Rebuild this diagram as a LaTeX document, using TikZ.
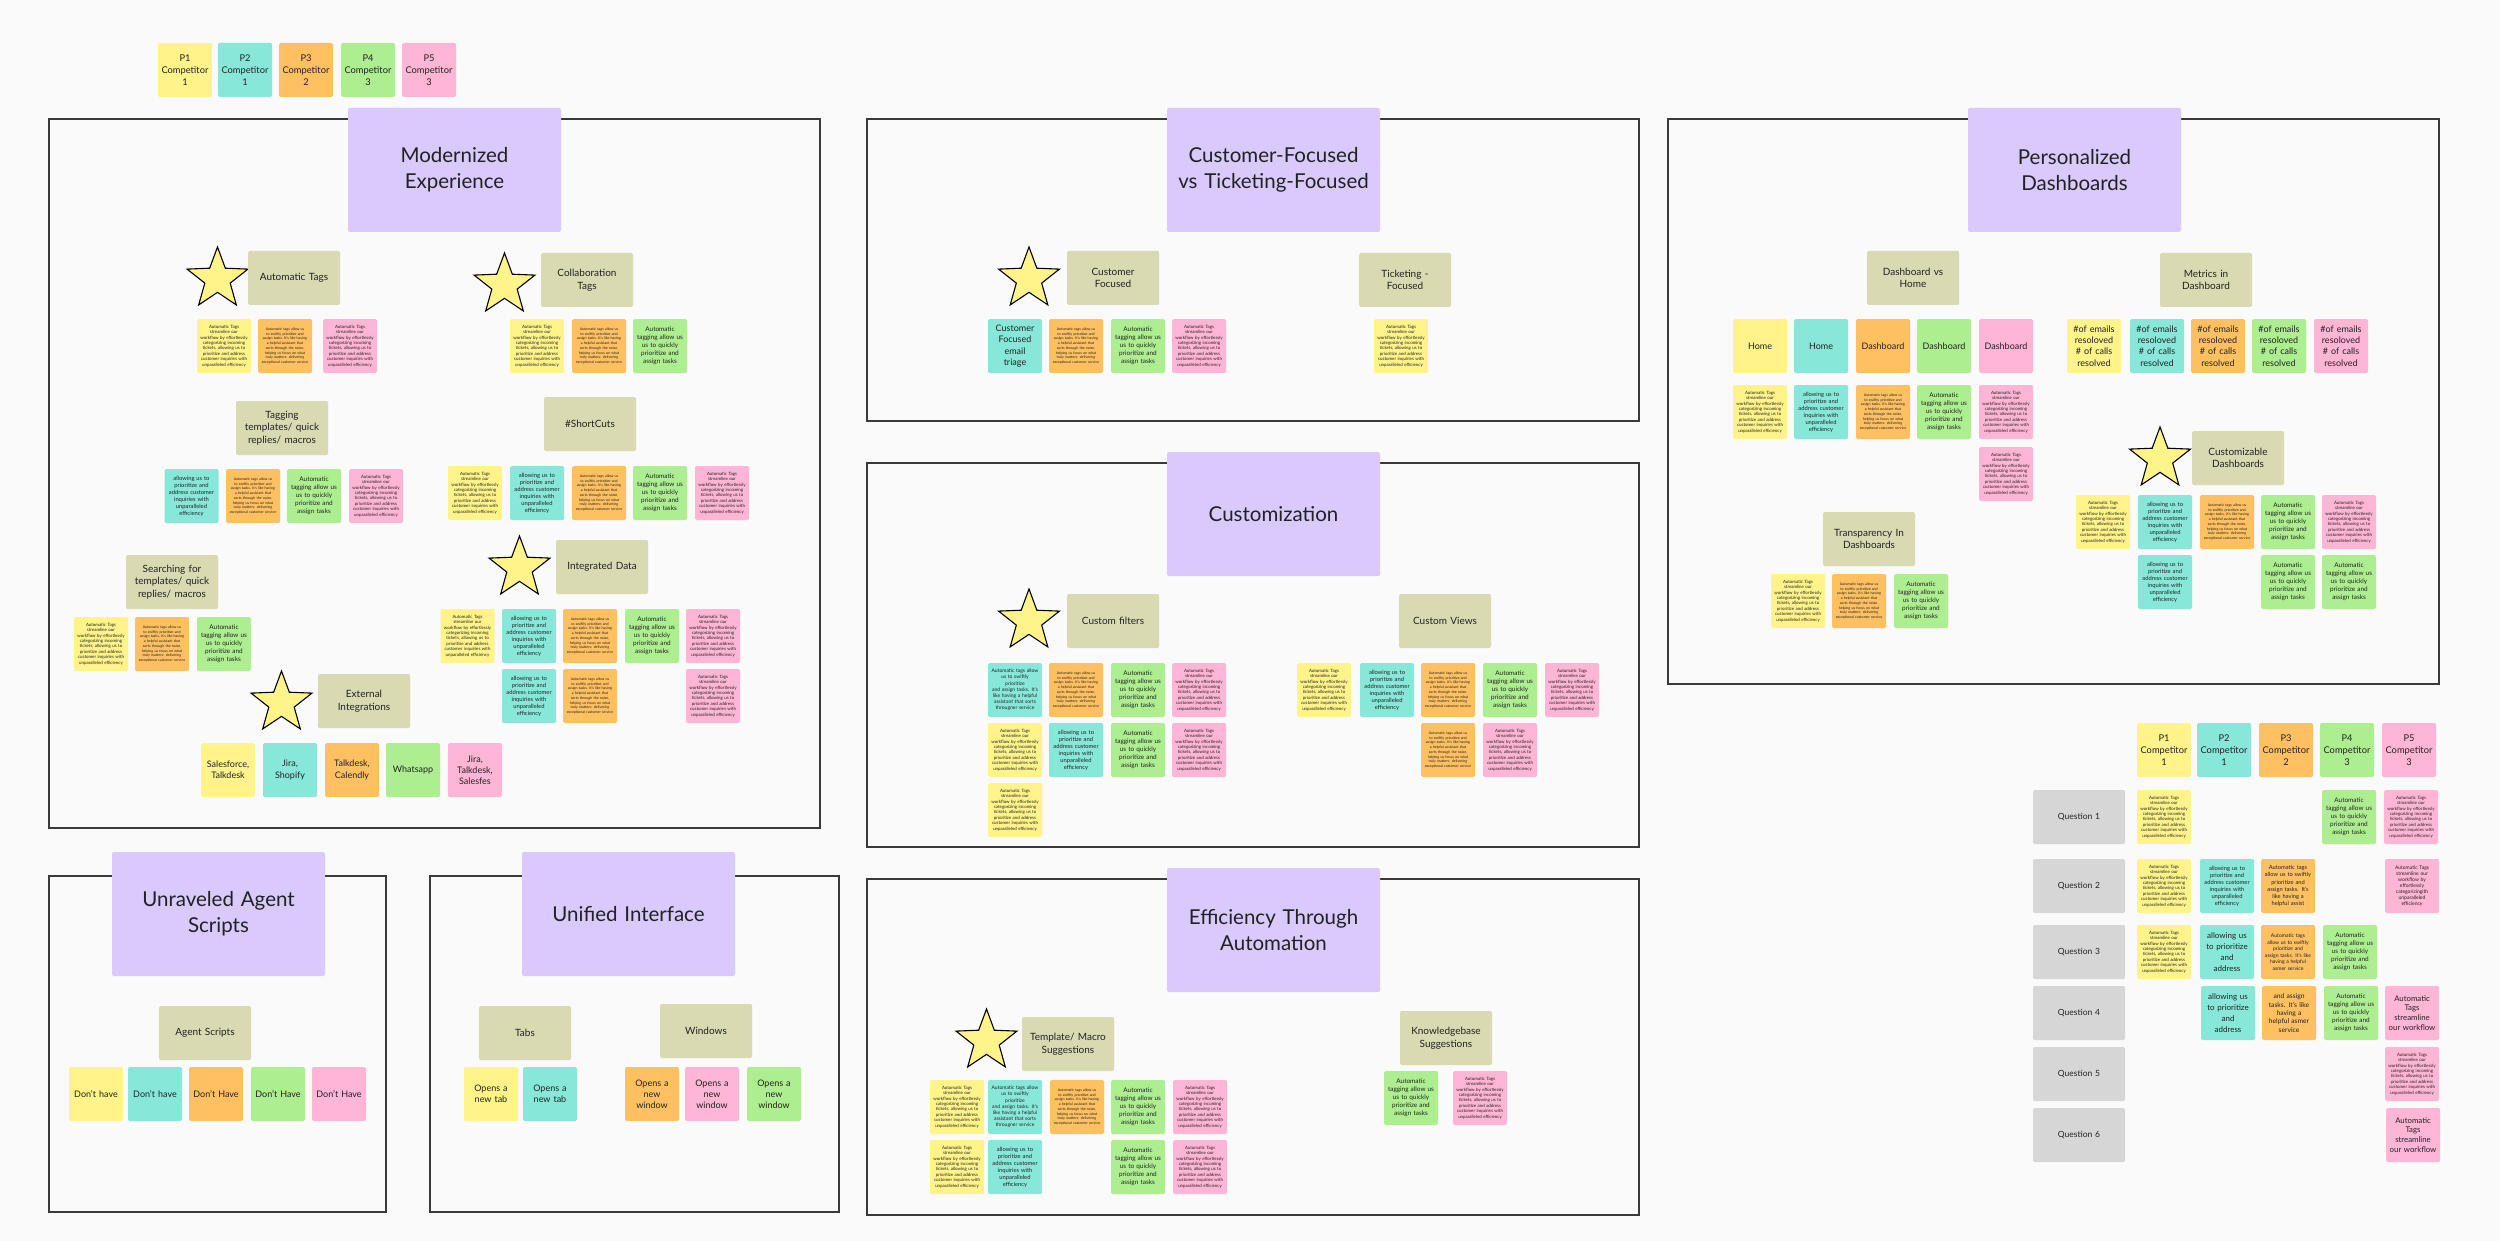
\documentclass[tikz,border=0pt]{standalone}
\usepackage{fontspec}
\setmainfont{Lato}
\usetikzlibrary{shapes.geometric}
\definecolor{cY}{HTML}{FFF38A}
\definecolor{cT}{HTML}{87E8DA}
\definecolor{cO}{HTML}{FFC062}
\definecolor{cG}{HTML}{ADEE90}
\definecolor{cP}{HTML}{FFB5D5}
\definecolor{lav}{HTML}{D9C9FD}
\definecolor{oli}{HTML}{D9DAB2}
\definecolor{qgr}{HTML}{D6D6D6}
\definecolor{bgc}{HTML}{FAFAFA}
\definecolor{frc}{HTML}{3A3A3A}
\definecolor{ink}{HTML}{222222}
\definecolor{stY}{HTML}{FFF48A}
\hyphenpenalty=10000
\exhyphenpenalty=10000
\newcommand\txTags{Automatic Tags streamline our workflow by effortlessly categorizing incoming tickets, allowing us to prioritize and address customer inquiries with unparalleled efficiency}
\newcommand\txOra{Automatic tags allow us to swiftly prioritize and assign tasks. It's like having a helpful assistant that sorts through the noise, helping us focus on what truly matters: delivering exceptional customer service}
\newcommand\txAllow{allowing us to\\prioritize and\\address customer\\inquiries with\\unparalleled\\efficiency}
\newcommand\txAuto{Automatic\\tagging allow us\\us to quickly\\prioritize and\\assign tasks}
\newcommand\txAssist{Automatic tags allow\\us to swiftly prioritize\\and assign tasks. It's\\like having a helpful\\assistant that sorts\\througner service}
\tikzset{
  bx/.style={anchor=north west, inner sep=0pt, outer sep=0pt, align=center, rounded corners=1.5pt, text=ink},
  st/.style={bx, fill=#1, minimum width=54pt, minimum height=54pt, text width=48pt},
  catbox/.style={bx, fill=oli, minimum width=92pt, minimum height=54pt, text width=86pt, font=\fontsize{10}{12.7}\selectfont},
  ttl/.style={bx, fill=lav, rounded corners=2pt, minimum width=213pt, minimum height=124pt, text width=205pt, font=\fontsize{20.5}{26}\selectfont},
  qbox/.style={bx, fill=qgr, minimum width=92pt, minimum height=54pt, text width=86pt, font=\fontsize{8.5}{11}\selectfont},
  fr/.style={draw=frc, line width=1.8pt},
  starn/.style={star, star points=5, star point ratio=2.4, fill=stY, draw=black, line width=1.1pt, minimum size=64pt, inner sep=0pt},
  fsT/.style={font=\fontsize{4.4}{5.4}\selectfont},
  fsO/.style={font=\fontsize{3.6}{4.7}\selectfont},
  fsA/.style={font=\fontsize{5.8}{7}\selectfont},
  fsG/.style={font=\fontsize{6.4}{7.9}\selectfont},
  fsM/.style={font=\fontsize{5}{6.2}\selectfont},
  fsL/.style={font=\fontsize{9}{11.2}\selectfont},
  fsH/.style={font=\fontsize{9.3}{12}\selectfont},
}
\begin{document}
\begin{tikzpicture}[x=1pt,y=-1pt]
\useasboundingbox (0,0) rectangle (2500,1241);
\fill[bgc] (0,0) rectangle (2500,1241);

% legend
\node[st=cY, fsH] (lg1) at (158,43) {P1\\Competitor\\1};
\node[st=cT, fsH] (lg2) at (218,43) {P2\\Competitor\\1};
\node[st=cO, fsH] (lg3) at (279,43) {P3\\Competitor\\2};
\node[st=cG, fsH] (lg4) at (341,43) {P4\\Competitor\\3};
\node[st=cP, fsH] (lg5) at (402,43) {P5\\Competitor\\3};

% frames
\draw[fr] (49,119) rectangle (820,828);
\draw[fr] (867,119) rectangle (1639,421);
\draw[fr] (867,463) rectangle (1639,847);
\draw[fr] (867,879) rectangle (1639,1215);
\draw[fr] (1668,119) rectangle (2439,684);
\draw[fr] (49,876) rectangle (386,1212);
\draw[fr] (430,876) rectangle (839,1212);

% ===== Modernized Experience =====
\node[ttl] (tM) at (348,108) {Modernized\\Experience};
\node[starn] (sM1) at (217.5,279) {};
\node[catbox] (cAT) at (248,251) {Automatic Tags};
\node[st=cY, fsT] (mA1) at (197,319) {\txTags};
\node[st=cO, fsO] (mA2) at (258,319) {\txOra};
\node[st=cP, fsT] (mA3) at (323,319) {\txTags};
\node[starn] (sM2) at (504.5,285) {};
\node[catbox] (cCT) at (541,253) {Collaboration\\Tags};
\node[st=cY, fsT] (mC1) at (510,319) {\txTags};
\node[st=cO, fsO] (mC2) at (572,319) {\txOra};
\node[st=cG, fsG] (mC3) at (633,319) {\txAuto};
\node[catbox] (cTT) at (236,401) {Tagging\\templates/ quick\\replies/ macros};
\node[st=cT, fsA] (mT1) at (164.5,469) {\txAllow};
\node[st=cO, fsO] (mT2) at (226,469) {\txOra};
\node[st=cG, fsG] (mT3) at (287,469) {\txAuto};
\node[st=cP, fsT] (mT4) at (349,469) {\txTags};
\node[catbox] (cSC) at (544,397) {\#ShortCuts};
\node[st=cY, fsT] (mS1) at (448,466) {\txTags};
\node[st=cT, fsA] (mS2) at (510,466) {\txAllow};
\node[st=cO, fsO] (mS3) at (572,466) {\txOra};
\node[st=cG, fsG] (mS4) at (633,466) {\txAuto};
\node[st=cP, fsT] (mS5) at (695,466) {\txTags};
\node[starn] (sM3) at (519.5,568) {};
\node[catbox] (cID) at (556,540) {Integrated Data};
\node[st=cY, fsT] (mI1) at (440.5,609) {\txTags};
\node[st=cT, fsA] (mI2) at (502,609) {\txAllow};
\node[st=cO, fsO] (mI3) at (563,609) {\txOra};
\node[st=cG, fsG] (mI4) at (625,609) {\txAuto};
\node[st=cP, fsT] (mI5) at (686,609) {\txTags};
\node[st=cT, fsA] (mI6) at (502,669) {\txAllow};
\node[st=cO, fsO] (mI7) at (563,669) {\txOra};
\node[st=cP, fsT] (mI8) at (686,669) {\txTags};
\node[catbox] (cSR) at (126,555) {Searching for\\templates/ quick\\replies/ macros};
\node[st=cY, fsT] (mR1) at (74,617) {\txTags};
\node[st=cO, fsO] (mR2) at (135,617) {\txOra};
\node[st=cG, fsG] (mR3) at (197,617) {\txAuto};
\node[starn] (sM4) at (281.5,703) {};
\node[catbox] (cEI) at (318,674) {External\\Integrations};
\node[st=cY, fsL] (mE1) at (201,743) {Salesforce,\\Talkdesk};
\node[st=cT, fsL] (mE2) at (263,743) {Jira,\\Shopify};
\node[st=cO, fsL] (mE3) at (325,743) {Talkdesk,\\Calendly};
\node[st=cG, fsL] (mE4) at (386,743) {Whatsapp};
\node[st=cP, fsL] (mE5) at (448,743) {Jira,\\Talkdesk,\\Salesfes};

% ===== Customer-Focused =====
\node[ttl] (tC) at (1167,108) {Customer-Focused\\vs Ticketing-Focused};
\node[starn] (sC1) at (1029,279) {};
\node[catbox] (cCF) at (1067,251) {Customer\\Focused};
\node[st=cT, fsL] (cf1) at (988,319) {Customer\\Focused\\email\\triage};
\node[st=cO, fsO] (cf2) at (1049,319) {\txOra};
\node[st=cG, fsG] (cf3) at (1111,319) {\txAuto};
\node[st=cP, fsT] (cf4) at (1172,319) {\txTags};
\node[catbox] (cTF) at (1359,253) {Ticketing -\\Focused};
\node[st=cY, fsT] (tf1) at (1374,319) {\txTags};

% ===== Customization =====
\node[ttl] (tZ) at (1167,452) {Customization};
\node[starn] (sZ1) at (1029,621) {};
\node[catbox] (cFI) at (1067,594) {Custom filters};
\node[st=cT, fsM] (zf1) at (988,663) {\txAssist};
\node[st=cO, fsO] (zf2) at (1049,663) {\txOra};
\node[st=cG, fsG] (zf3) at (1111,663) {\txAuto};
\node[st=cP, fsT] (zf4) at (1172,663) {\txTags};
\node[st=cY, fsT] (zf5) at (988,723) {\txTags};
\node[st=cT, fsA] (zf6) at (1049,723) {\txAllow};
\node[st=cG, fsG] (zf7) at (1111,723) {\txAuto};
\node[st=cP, fsT] (zf8) at (1172,723) {\txTags};
\node[st=cY, fsT] (zf9) at (988,783) {\txTags};
\node[catbox] (cCV) at (1399,594) {Custom Views};
\node[st=cY, fsT] (zv1) at (1297,663) {\txTags};
\node[st=cT, fsA] (zv2) at (1360,663) {\txAllow};
\node[st=cO, fsO] (zv3) at (1421,663) {\txOra};
\node[st=cG, fsG] (zv4) at (1483,663) {\txAuto};
\node[st=cP, fsT] (zv5) at (1545,663) {\txTags};
\node[st=cO, fsO] (zv6) at (1421,723) {\txOra};
\node[st=cP, fsT] (zv7) at (1483,723) {\txTags};

% ===== Efficiency Through Automation =====
\node[ttl] (tE) at (1167,868) {Efficiency Through\\Automation};
\node[starn] (sE1) at (986.5,1041) {};
\node[catbox] (cTM) at (1022,1017) {Template/ Macro\\Suggestions};
\node[st=cY, fsT] (ef1) at (930,1080) {\txTags};
\node[st=cT, fsM] (ef2) at (988,1080) {\txAssist};
\node[st=cO, fsO] (ef3) at (1050,1080) {\txOra};
\node[st=cG, fsG] (ef4) at (1111,1080) {\txAuto};
\node[st=cP, fsT] (ef5) at (1173,1080) {\txTags};
\node[st=cY, fsT] (ef6) at (930,1140) {\txTags};
\node[st=cT, fsA] (ef7) at (988,1140) {\txAllow};
\node[st=cG, fsG] (ef8) at (1111,1140) {\txAuto};
\node[st=cP, fsT] (ef9) at (1173,1140) {\txTags};
\node[catbox] (cKB) at (1400,1011) {Knowledgebase\\Suggestions};
\node[st=cG, fsG] (kb1) at (1384,1071) {\txAuto};
\node[st=cP, fsT] (kb2) at (1453,1071) {\txTags};

% ===== Personalized Dashboards =====
\node[ttl] (tP) at (1968,108) {Personalized\\Dashboards};
\node[catbox] (cDH) at (1867,251) {Dashboard vs\\Home};
\node[st=cY, fsL] (dh1) at (1733,319) {Home};
\node[st=cT, fsL] (dh2) at (1794,319) {Home};
\node[st=cO, fsL] (dh3) at (1856,319) {Dashboard};
\node[st=cG, fsL] (dh4) at (1917,319) {Dashboard};
\node[st=cP, fsL] (dh5) at (1979,319) {Dashboard};
\node[st=cY, fsT] (dh6) at (1733,385) {\txTags};
\node[st=cT, fsA] (dh7) at (1794,385) {\txAllow};
\node[st=cO, fsO] (dh8) at (1856,385) {\txOra};
\node[st=cG, fsG] (dh9) at (1917,385) {\txAuto};
\node[st=cP, fsT] (dh10) at (1979,385) {\txTags};
\node[st=cP, fsT] (dh11) at (1979,447) {\txTags};
\node[catbox] (cMD) at (2160,253) {Metrics in\\Dashboard};
\node[st=cY, fsL] (md1) at (2067,319) {\#of emails\\resoloved\\\# of calls\\resolved};
\node[st=cT, fsL] (md2) at (2130,319) {\#of emails\\resoloved\\\# of calls\\resolved};
\node[st=cO, fsL] (md3) at (2191,319) {\#of emails\\resoloved\\\# of calls\\resolved};
\node[st=cG, fsL] (md4) at (2252,319) {\#of emails\\resoloved\\\# of calls\\resolved};
\node[st=cP, fsL] (md5) at (2314,319) {\#of emails\\resoloved\\\# of calls\\resolved};
\node[starn] (sP1) at (2160,459) {};
\node[catbox] (cCD) at (2192,431) {Customizable\\Dashboards};
\node[st=cY, fsT] (cd1) at (2076,495) {\txTags};
\node[st=cT, fsA] (cd2) at (2138,495) {\txAllow};
\node[st=cO, fsO] (cd3) at (2200,495) {\txOra};
\node[st=cG, fsG] (cd4) at (2261,495) {\txAuto};
\node[st=cP, fsT] (cd5) at (2322,495) {\txTags};
\node[st=cT, fsA] (cd6) at (2138,555) {\txAllow};
\node[st=cG, fsG] (cd7) at (2261,555) {\txAuto};
\node[st=cG, fsG] (cd8) at (2322,555) {\txAuto};
\node[catbox] (cTD) at (1823,512) {Transparency In\\Dashboards};
\node[st=cY, fsT] (td1) at (1771,574) {\txTags};
\node[st=cO, fsO] (td2) at (1832,574) {\txOra};
\node[st=cG, fsG] (td3) at (1894,574) {\txAuto};

% ===== Unraveled Agent Scripts =====
\node[ttl] (tU) at (112,852) {Unraveled Agent\\Scripts};
\node[catbox] (cAS) at (159,1006) {Agent Scripts};
\node[st=cY, fsL] (as1) at (69,1067) {Don't have};
\node[st=cT, fsL] (as2) at (128,1067) {Don't have};
\node[st=cO, fsL] (as3) at (189,1067) {Don't Have};
\node[st=cG, fsL] (as4) at (251,1067) {Don't Have};
\node[st=cP, fsL] (as5) at (312,1067) {Don't Have};

% ===== Unified Interface =====
\node[ttl] (tI) at (522,852) {Unified Interface};
\node[catbox] (cTB) at (479,1006) {Tabs};
\node[catbox] (cWN) at (660,1004) {Windows};
\node[st=cY, fsL] (ui1) at (464,1067) {Opens a\\new tab};
\node[st=cT, fsL] (ui2) at (523,1067) {Opens a\\new tab};
\node[st=cO, fsL] (ui3) at (625,1067) {Opens a\\new\\window};
\node[st=cP, fsL] (ui4) at (685,1067) {Opens a\\new\\window};
\node[st=cG, fsL] (ui5) at (747,1067) {Opens a\\new\\window};

% ===== Comparison table =====
\node[st=cY, fsH] (h1) at (2137,723) {P1\\Competitor\\1};
\node[st=cT, fsH] (h2) at (2197,723) {P2\\Competitor\\1};
\node[st=cO, fsH] (h3) at (2259,723) {P3\\Competitor\\2};
\node[st=cG, fsH] (h4) at (2320,723) {P4\\Competitor\\3};
\node[st=cP, fsH] (h5) at (2382,723) {P5\\Competitor\\3};
\node[qbox] (q1) at (2033,790) {Question 1};
\node[qbox] (q2) at (2033,859) {Question 2};
\node[qbox] (q3) at (2033,925) {Question 3};
\node[qbox] (q4) at (2033,986) {Question 4};
\node[qbox] (q5) at (2033,1047) {Question 5};
\node[qbox] (q6) at (2033,1108) {Question 6};
% Q1
\node[st=cY, fsT] (a11) at (2137,790) {\txTags};
\node[st=cG, fsG] (a14) at (2322,790) {\txAuto};
\node[st=cP, fsT] (a15) at (2384,790) {\txTags};
% Q2
\node[st=cY, fsT] (a21) at (2137,859) {\txTags};
\node[st=cT, fsA] (a22) at (2200,859) {\txAllow};
\node[st=cO, font=\fontsize{5.7}{7.1}\selectfont] (a23) at (2261,859) {Automatic tags\\allow us to swiftly\\prioritize and\\assign tasks. It's\\like having a\\helpful assist};
\node[st=cP, font=\fontsize{5}{6.1}\selectfont] (a25) at (2385,859) {Automatic Tags\\streamline our\\workflow by\\effortlessly\\categorizingith\\unparalleled\\efficiency};
% Q3
\node[st=cY, fsT] (a31) at (2137,925) {\txTags};
\node[st=cT, font=\fontsize{8}{11}\selectfont] (a32) at (2200,925) {allowing us\\to prioritize\\and\\address};
\node[st=cO, font=\fontsize{5.1}{6.5}\selectfont] (a33) at (2261,925) {Automatic tags\\allow us to swiftly\\prioritize and\\assign tasks. It's like\\having a helpful\\asmer service};
\node[st=cG, fsG] (a34) at (2323,925) {\txAuto};
% Q4
\node[st=cT, font=\fontsize{8}{11}\selectfont] (a42) at (2201,986) {allowing us\\to prioritize\\and\\address};
\node[st=cO, font=\fontsize{6.7}{8.4}\selectfont] (a43) at (2262,986) {and assign\\tasks. It's like\\having a\\helpful asmer\\service};
\node[st=cG, fsG] (a44) at (2324,986) {\txAuto};
\node[st=cP, font=\fontsize{7.8}{9.8}\selectfont] (a45) at (2385,986) {Automatic\\Tags\\streamline\\our workflow};
% Q5
\node[st=cP, fsT] (a55) at (2385,1047) {\txTags};
% Q6
\node[st=cP, font=\fontsize{7.8}{9.8}\selectfont] (a65) at (2386,1108) {Automatic\\Tags\\streamline\\our workflow};
\end{tikzpicture}
\end{document}
